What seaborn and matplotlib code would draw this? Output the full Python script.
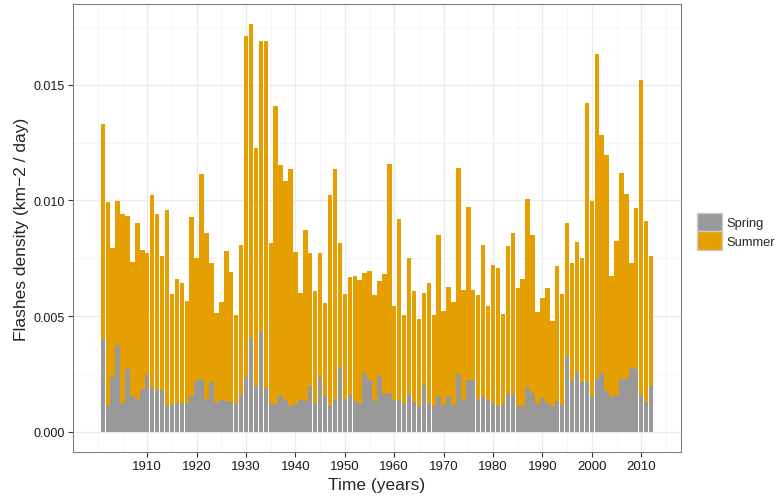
import numpy as np
import pandas as pd
import matplotlib
matplotlib.use("Agg")
import matplotlib.pyplot as plt
import seaborn as sns
from matplotlib.patches import Patch

years = list(range(1901, 2013))

spring = [0.00401, 0.00112, 0.00238, 0.00375, 0.00123, 0.00271, 0.00155, 0.00141, 0.00181, 0.00246,
          0.00193, 0.00178, 0.00181, 0.00116, 0.00116, 0.00123, 0.00123, 0.00126, 0.00159, 0.00219,
          0.00229, 0.00143, 0.00216, 0.00129, 0.00138, 0.00133, 0.00129, 0.00119, 0.00159, 0.00235,
          0.00406, 0.00197, 0.00430, 0.00188, 0.00125, 0.00119, 0.00159, 0.00136, 0.00112, 0.00119,
          0.00139, 0.00133, 0.00196, 0.00125, 0.00235, 0.00154, 0.00113, 0.00143, 0.00281, 0.00143,
          0.00159, 0.00133, 0.00125, 0.00254, 0.00223, 0.00133, 0.00242, 0.00164, 0.00167, 0.00135,
          0.00135, 0.00119, 0.00164, 0.00128, 0.00112, 0.00203, 0.00125, 0.00112, 0.00152, 0.00116,
          0.00156, 0.00116, 0.00248, 0.00138, 0.00223, 0.00223, 0.00141, 0.00152, 0.00139, 0.00125,
          0.00112, 0.00119, 0.00161, 0.00161, 0.00112, 0.00112, 0.00193, 0.00167, 0.00119, 0.00146,
          0.00123, 0.00112, 0.00132, 0.00116, 0.00329, 0.00222, 0.00259, 0.00214, 0.00216, 0.00155,
          0.00229, 0.00254, 0.00175, 0.00148, 0.00159, 0.00227, 0.00227, 0.00277, 0.00271, 0.00158,
          0.00128, 0.00199]

summer = [0.00931, 0.00881, 0.00555, 0.00623, 0.00816, 0.00662, 0.00580, 0.00763, 0.00604, 0.00525,
          0.00831, 0.00762, 0.00578, 0.00843, 0.00478, 0.00538, 0.00520, 0.00439, 0.00770, 0.00533,
          0.00884, 0.00715, 0.00514, 0.00385, 0.00424, 0.00647, 0.00562, 0.00387, 0.00648, 0.01475,
          0.01355, 0.01029, 0.01257, 0.01500, 0.00692, 0.01291, 0.00994, 0.00949, 0.01024, 0.00656,
          0.00462, 0.00741, 0.00578, 0.00485, 0.00539, 0.00402, 0.00909, 0.00992, 0.00536, 0.00454,
          0.00509, 0.00541, 0.00531, 0.00434, 0.00473, 0.00460, 0.00409, 0.00516, 0.00991, 0.00408,
          0.00784, 0.00384, 0.00589, 0.00479, 0.00376, 0.00395, 0.00518, 0.00391, 0.00699, 0.00407,
          0.00471, 0.00445, 0.00892, 0.00475, 0.00749, 0.00388, 0.00452, 0.00654, 0.00404, 0.00594,
          0.00594, 0.00390, 0.00640, 0.00698, 0.00507, 0.00547, 0.00811, 0.00684, 0.00400, 0.00434,
          0.00500, 0.00365, 0.00584, 0.00478, 0.00575, 0.00507, 0.00560, 0.00535, 0.01203, 0.00842,
          0.01403, 0.01030, 0.01020, 0.00523, 0.00667, 0.00890, 0.00802, 0.00453, 0.00694, 0.01363,
          0.00782, 0.00559]

seasons = ["Spring", "Summer"]
colors = ["#999999", "#E69F00"]
x_major = [1910, 1920, 1930, 1940, 1950, 1960, 1970, 1980, 1990, 2000, 2010]
x_minor = [1900, 1905, 1915, 1925, 1935, 1945, 1955, 1965, 1975, 1985, 1995, 2005, 2015]
y_major = [0.0, 0.005, 0.010, 0.015]
y_minor = [0.0025, 0.0075, 0.0125, 0.0175]

df = pd.DataFrame({"year": years, "Spring": spring, "Summer": summer})
df["top"] = df["Spring"] + df["Summer"]

sns.set_theme(style="white")
plt.rcParams["font.family"] = ["Liberation Sans", "DejaVu Sans"]

fig = plt.figure(figsize=(7.83, 5.02), dpi=100)
ax = fig.add_axes([0.0932, 0.0976, 0.7765, 0.8924])

# stacked: summer drawn to the full height, spring on top of it from 0
sns.barplot(data=df, x="year", y="top", native_scale=True, color=colors[1],
            saturation=1, width=0.9, errorbar=None, linewidth=0, ax=ax)
sns.barplot(data=df, x="year", y="Spring", native_scale=True, color=colors[0],
            saturation=1, width=0.9, errorbar=None, linewidth=0, ax=ax)

ax.set_xlim(1894.96, 2018.05)
ax.set_ylim(-0.00088, 0.01849)

ax.set_xticks(x_major)
ax.set_xticklabels([str(y) for y in x_major])
ax.set_xticks(x_minor, minor=True)
ax.set_yticks(y_major)
ax.set_yticklabels(["%.3f" % v for v in y_major])
ax.set_yticks(y_minor, minor=True)

ax.grid(True, which="major", color="#EBEBEB", linewidth=0.9)
ax.grid(True, which="minor", color="#F2F2F2", linewidth=0.5)
ax.set_axisbelow(True)

for s in ax.spines.values():
    s.set_color("#7F7F7F")
    s.set_linewidth(0.8)

ax.tick_params(axis="both", which="major", length=3.5, width=0.8, color="#333333",
               labelsize=9.5, labelcolor="#1A1A1A", pad=2.5, bottom=True, left=True)
ax.tick_params(axis="y", which="major", labelsize=9)
ax.tick_params(axis="both", which="minor", length=0)

ax.set_xlabel("Time (years)", fontsize=12.5, labelpad=3)
ax.set_ylabel("Flashes density (km\u22122 / day)", fontsize=12.5, labelpad=3)

handles = [Patch(facecolor=c, edgecolor="#CCCCCC", linewidth=1.0) for c in colors]
fig.legend(handles, seasons, loc="center left", bbox_to_anchor=(0.884, 0.537),
           frameon=False, fontsize=9.3, handlelength=1.9, handleheight=1.85,
           handletextpad=0.35, labelspacing=0.0, borderaxespad=0)

fig.savefig("out.png", dpi=100)
